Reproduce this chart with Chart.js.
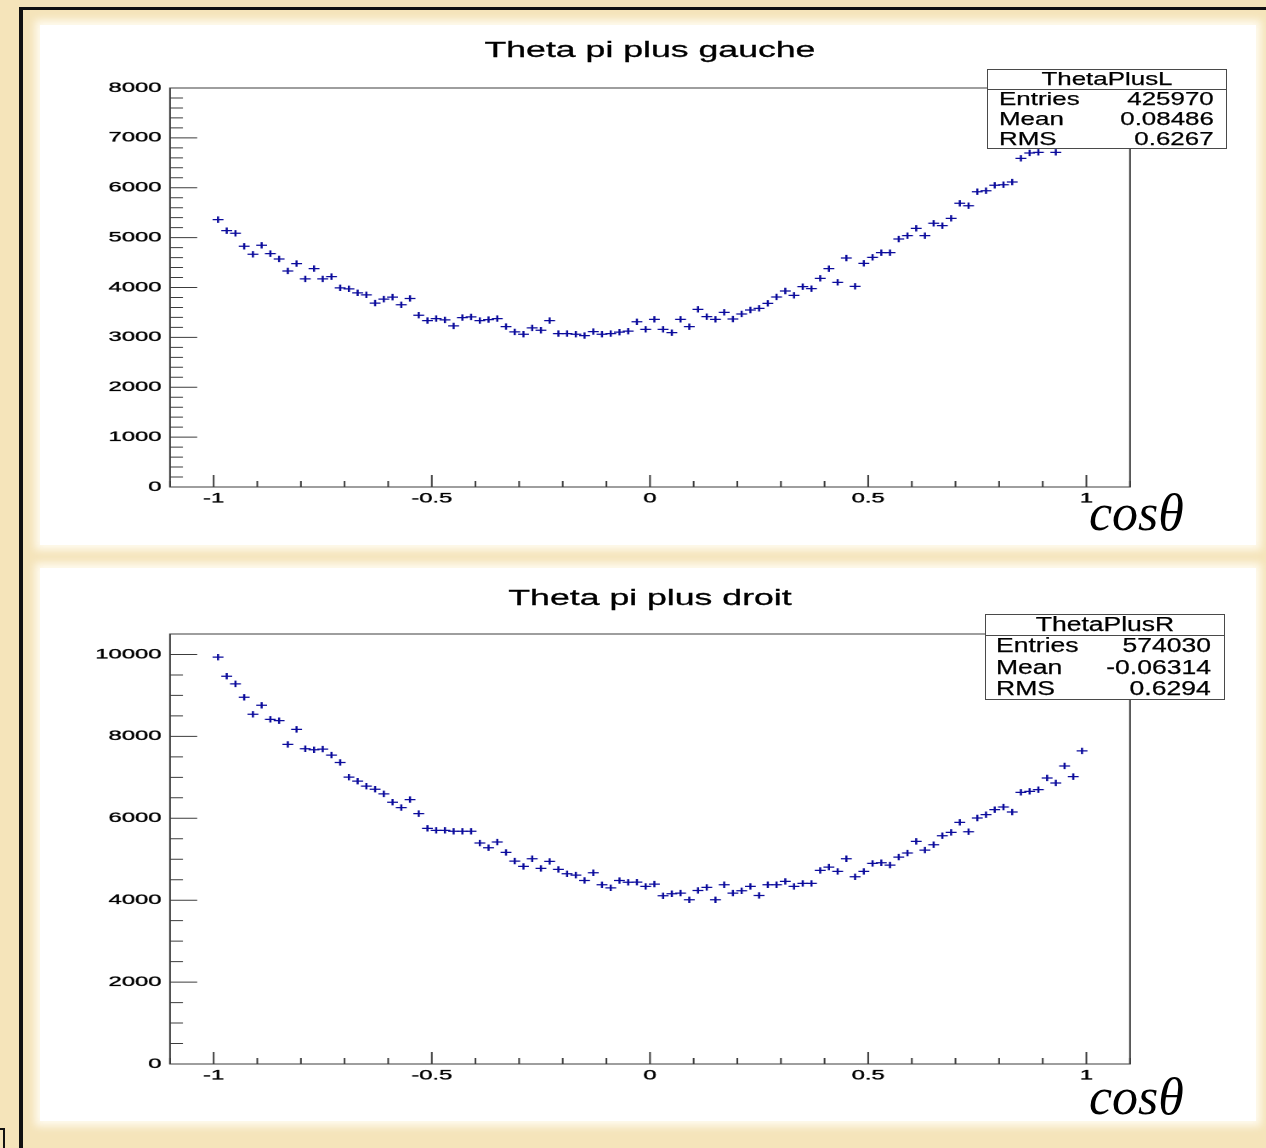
<!DOCTYPE html>
<html lang="fr">
<head>
<meta charset="utf-8">
<title>Theta pi plus</title>
<script src="https://cdn.jsdelivr.net/npm/chart.js@4.4.1/dist/chart.umd.min.js"></script>
<style>
  html, body { margin:0; padding:0; }
  body { width:1266px; height:1148px; position:relative; overflow:hidden; background:#f5e4ba; font-family:"Liberation Sans", Arial, Helvetica, sans-serif; }
  .abs { position:absolute; }
  .panel { position:absolute; background:#fff; box-shadow:0 0 8px 5px rgba(255,252,242,0.95); }
  .wrap { position:absolute; transform-origin:0 0; }
  .wrap canvas { display:block; }
  .title { position:absolute; left:0; width:1300px; text-align:center; font-size:22px; line-height:22px; color:#000; transform:scaleX(1.62); transform-origin:650px 0; white-space:nowrap; -webkit-text-stroke:0.3px #000; }
  .stats { position:absolute; box-sizing:border-box; border:1.5px solid #4a4a4a; background:#fff; }
  .stats .sep { position:absolute; left:0; right:0; height:0; border-top:1.5px solid #4a4a4a; }
  .stats .row { position:absolute; left:0; right:0; white-space:nowrap; color:#000; -webkit-text-stroke:0.25px #000; }
  .stats .lab { position:absolute; transform-origin:0 50%; }
  .stats .val { position:absolute; transform-origin:100% 50%; }
  .stats .hdr { position:absolute; left:0; right:0; text-align:center; }
  .axt { position:absolute; font-family:"Liberation Serif", "DejaVu Serif", serif; font-style:italic; font-size:52px; line-height:52px; color:#000; white-space:nowrap; }
</style>
</head>
<body>
<!-- slide frame -->
<div class="abs" style="left:19px;top:7px;width:1247px;height:3px;background:#111"></div>
<div class="abs" style="left:19px;top:7px;width:4px;height:1141px;background:#111"></div>
<div class="abs" style="left:-10px;top:1128px;width:13px;height:30px;border-top:2.5px solid #111;border-right:2.5px solid #111"></div>

<div class="panel" style="left:40px;top:25px;width:1216px;height:520px"></div>
<div class="panel" style="left:40px;top:568px;width:1216px;height:553px"></div>

<div class="wrap" id="w1" style="left:40px;top:25px;"><canvas id="c1" width="715" height="520"></canvas></div>
<div class="wrap" id="w2" style="left:40px;top:567px;"><canvas id="c2" width="715" height="555"></canvas></div>

<div class="title" style="top:38.5px">Theta pi plus gauche</div>
<div class="title" style="top:586.5px">Theta pi plus droit</div>

<div class="stats" style="left:987px;top:69px;width:240px;height:80px;">
  <div class="sep" style="top:18.5px"></div>
  <div class="row" style="top:-1.5px;height:20px;line-height:20px;font-size:18.5px"><span class="hdr" style="transform:scaleX(1.4)">ThetaPlusL</span></div>
  <div class="row" style="top:18.5px;height:20px;line-height:20px;font-size:18.5px"><span class="lab" style="left:10.5px;transform:scaleX(1.4)">Entries</span><span class="val" style="right:12.5px;transform:scaleX(1.4)">425970</span></div>
  <div class="row" style="top:38.5px;height:20px;line-height:20px;font-size:18.5px"><span class="lab" style="left:10.5px;transform:scaleX(1.4)">Mean</span><span class="val" style="right:12.5px;transform:scaleX(1.4)">0.08486</span></div>
  <div class="row" style="top:58.5px;height:20px;line-height:20px;font-size:18.5px"><span class="lab" style="left:10.5px;transform:scaleX(1.4)">RMS</span><span class="val" style="right:12.5px;transform:scaleX(1.4)">0.6267</span></div>
</div>

<div class="stats" style="left:985px;top:614px;width:240px;height:86px;">
  <div class="sep" style="top:20.2px"></div>
  <div class="row" style="top:-1.25px;height:21.5px;line-height:21.5px;font-size:19.5px"><span class="hdr" style="transform:scaleX(1.36)">ThetaPlusR</span></div>
  <div class="row" style="top:20.25px;height:21.5px;line-height:21.5px;font-size:19.5px"><span class="lab" style="left:10.2px;transform:scaleX(1.36)">Entries</span><span class="val" style="right:12.9px;transform:scaleX(1.36)">574030</span></div>
  <div class="row" style="top:41.75px;height:21.5px;line-height:21.5px;font-size:19.5px"><span class="lab" style="left:10.2px;transform:scaleX(1.36)">Mean</span><span class="val" style="right:12.9px;transform:scaleX(1.36)">-0.06314</span></div>
  <div class="row" style="top:63.25px;height:21.5px;line-height:21.5px;font-size:19.5px"><span class="lab" style="left:10.2px;transform:scaleX(1.36)">RMS</span><span class="val" style="right:12.9px;transform:scaleX(1.36)">0.6294</span></div>
</div>

<div class="axt" style="left:1089px;top:486.5px">cosθ</div>
<div class="axt" style="left:1089px;top:1070.5px">cosθ</div>

<script>
// ---- data ----
const binCenters = [
  -0.99,-0.97,-0.95,-0.93,-0.91,-0.89,-0.87,-0.85,-0.83,-0.81,
  -0.79,-0.77,-0.75,-0.73,-0.71,-0.69,-0.67,-0.65,-0.63,-0.61,
  -0.59,-0.57,-0.55,-0.53,-0.51,-0.49,-0.47,-0.45,-0.43,-0.41,
  -0.39,-0.37,-0.35,-0.33,-0.31,-0.29,-0.27,-0.25,-0.23,-0.21,
  -0.19,-0.17,-0.15,-0.13,-0.11,-0.09,-0.07,-0.05,-0.03,-0.01,
   0.01, 0.03, 0.05, 0.07, 0.09, 0.11, 0.13, 0.15, 0.17, 0.19,
   0.21, 0.23, 0.25, 0.27, 0.29, 0.31, 0.33, 0.35, 0.37, 0.39,
   0.41, 0.43, 0.45, 0.47, 0.49, 0.51, 0.53, 0.55, 0.57, 0.59,
   0.61, 0.63, 0.65, 0.67, 0.69, 0.71, 0.73, 0.75, 0.77, 0.79,
   0.81, 0.83, 0.85, 0.87, 0.89, 0.91, 0.93, 0.95, 0.97, 0.99
];

const thetaPlusL = [
  5361,5140,5087,4826,4666,4846,4679,4572,4332,4479,
  4172,4379,4172,4218,3993,3973,3893,3853,3687,3767,
  3807,3653,3780,3444,3337,3377,3350,3230,3397,3410,
  3337,3357,3377,3216,3110,3063,3190,3143,3337,3076,
  3076,3063,3036,3116,3063,3076,3105,3125,3313,3161,
  3362,3161,3094,3362,3215,3562,3415,3362,3502,3368,
  3469,3549,3582,3682,3810,3930,3843,4017,3977,4184,
  4378,4104,4591,4023,4484,4605,4698,4698,4972,5039,
  5186,5039,5287,5240,5387,5688,5640,5921,5941,6049,
  6061,6115,6590,6697,6710,7000,6710,7200,7350,7610
];

const thetaPlusR = [
  9935,9469,9282,8955,8539,8759,8416,8384,7804,8171,
  7698,7673,7690,7543,7363,7004,6906,6784,6710,6596,
  6392,6261,6457,6114,5755,5706,5706,5682,5682,5682,
  5396,5282,5420,5167,4955,4825,5012,4776,4947,4751,
  4645,4612,4482,4670,4376,4302,4480,4437,4440,4336,
  4393,4108,4157,4173,4010,4238,4312,4010,4377,4173,
  4230,4336,4116,4377,4377,4458,4336,4410,4410,4727,
  4808,4703,5012,4572,4703,4898,4914,4857,5053,5151,
  5436,5224,5355,5575,5656,5901,5672,6007,6088,6210,
  6275,6153,6634,6658,6699,6985,6862,7278,7017,7645
];

const xTickValues = [-1, -0.5, 0, 0.5, 1];
const xTickLabels = ['-1', '-0.5', '0', '0.5', '1'];
const yTicksL = [0, 1000, 2000, 3000, 4000, 5000, 6000, 7000, 8000];
const yTicksR = [0, 2000, 4000, 6000, 8000, 10000];

// ---- layout (internal canvas units, stretched horizontally) ----
const CW = 715;
const S = 1216 / CW;
document.getElementById('w1').style.transform = 'scaleX(' + S + ')';
document.getElementById('w2').style.transform = 'scaleX(' + S + ')';
const yAxisW = (170 - 40) / S;
const padRight = CW - (1130 - 40) / S;
const markerColor = '#0b0b9c';
const tickFont = { family: '"Liberation Sans", Arial, sans-serif', size: 14 };

function rootFrame(yMinorStep, yTicks) {
  return {
    id: 'rootFrame',
    afterDatasetsDraw(chart) {
      const { ctx, chartArea: a } = chart;
      const x = chart.scales.x, y = chart.scales.y;
      ctx.save();
      ctx.strokeStyle = '#3c3c3c';
      ctx.lineWidth = 1;
      ctx.beginPath();
      const nY = Math.round(y.max / yMinorStep);
      for (let i = 0; i <= nY; i++) {
        const v = i * yMinorStep;
        const major = yTicks.indexOf(v) >= 0;
        const py = y.getPixelForValue(v);
        ctx.moveTo(a.left, py);
        ctx.lineTo(a.left + (major ? 16 : 7.6), py);
      }
      for (let i = -11; i <= 11; i++) {
        const px = x.getPixelForValue(i / 10);
        ctx.moveTo(px, a.bottom);
        ctx.lineTo(px, a.bottom - (i % 5 === 0 ? 12 : 6));
      }
      ctx.stroke();
      ctx.strokeRect(a.left, a.top, a.right - a.left, a.bottom - a.top);
      ctx.restore();
    }
  };
}

function makeChart(id, values, yTicks, yMax, yMinorStep, padTop, xAxisH) {
  return new Chart(document.getElementById(id), {
    type: 'scatter',
    data: {
      datasets: [{
        data: binCenters.map((c, i) => ({ x: c, y: values[i] })),
        showLine: false,
        pointStyle: 'cross',
        pointRadius: 3.2,
        pointHoverRadius: 3.2,
        pointBorderWidth: 1.25,
        borderColor: markerColor,
        backgroundColor: markerColor
      }]
    },
    options: {
      responsive: false,
      devicePixelRatio: 2,
      animation: false,
      events: [],
      layout: { padding: { left: 0, right: padRight, top: padTop, bottom: 0 } },
      plugins: { legend: { display: false }, title: { display: false }, tooltip: { enabled: false } },
      scales: {
        x: {
          type: 'linear', min: -1.1, max: 1.1,
          grid: { display: false, drawTicks: false },
          border: { display: false },
          afterBuildTicks: s => { s.ticks = xTickValues.map(v => ({ value: v })); },
          afterFit: s => { s.height = xAxisH; },
          ticks: {
            autoSkip: false, maxRotation: 0, padding: 3, color: '#000', font: tickFont,
            textStrokeColor: '#000', textStrokeWidth: 0.35,
            callback: v => xTickLabels[xTickValues.indexOf(v)]
          }
        },
        y: {
          type: 'linear', min: 0, max: yMax,
          grid: { display: false, drawTicks: false },
          border: { display: false },
          afterBuildTicks: s => { s.ticks = yTicks.map(v => ({ value: v })); },
          afterFit: s => { s.width = yAxisW; },
          ticks: {
            autoSkip: false, padding: 5, color: '#000', font: tickFont,
            textStrokeColor: '#000', textStrokeWidth: 0.35,
            callback: v => String(v)
          }
        }
      }
    },
    plugins: [rootFrame(yMinorStep, yTicks)]
  });
}

makeChart('c1', thetaPlusL, yTicksL, 8000, 200, 63, 58);
makeChart('c2', thetaPlusR, yTicksR, 10500, 500, 67, 58);
</script>
</body>
</html>
